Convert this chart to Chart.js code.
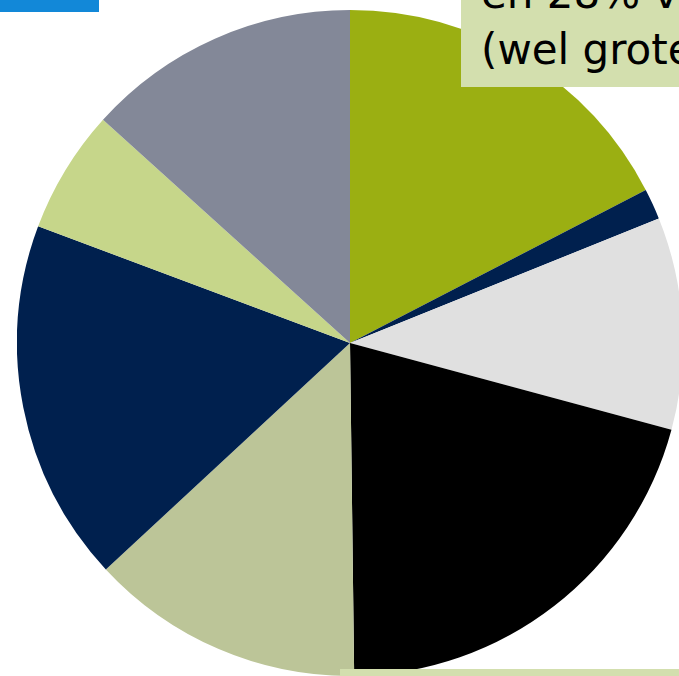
<!DOCTYPE html>
<html>
<head>
<meta charset="utf-8">
<script src="https://cdn.jsdelivr.net/npm/chart.js@4"></script>
<style>
  html, body { margin: 0; padding: 0; width: 679px; height: 676px; overflow: hidden; background: #fff; }
  #wrap { position: absolute; left: 17px; top: 10px; width: 666px; height: 666px; }
  .bar { position: absolute; left: 0; top: 0; width: 99px; height: 12px; background: #1288d8; }
  .note { position: absolute; left: 461px; top: 0; width: 240px; height: 87px; background: #d3dfae; overflow: hidden; }
  .note div { position: absolute; left: 20px; white-space: nowrap; font-family: "DejaVu Sans", sans-serif; font-size: 42px; line-height: 42px; color: #000; }
  .foot { position: absolute; left: 340px; top: 669px; width: 360px; height: 20px; background: #d3dfae; }
</style>
</head>
<body>
<div id="wrap"><canvas id="chart" width="666" height="666"></canvas></div>
<div class="bar"></div>
<div class="note">
  <div style="top:-27px">en 28% van de</div>
  <div style="top:29px">(wel groter)</div>
</div>
<div class="foot"></div>
<script>
// slice shares in percent, clockwise from the top
let labels = ["A", "B", "C", "D", "E", "F", "G", "H"];
let values = [17.4, 1.5, 10.3, 20.6, 13.3, 17.6, 6.0, 13.3];
let colors = ["#9baf12", "#00204e", "#e0e0e0", "#000000", "#bcc598", "#00204e", "#c6d68a", "#838898"];

let ctx = document.getElementById("chart").getContext("2d");
new Chart(ctx, {
    type: "pie",
    data: {
        labels: labels,
        datasets: [{
            data: values,
            backgroundColor: colors,
            borderWidth: 0
        }]
    },
    options: {
        responsive: false,
        animation: false,
        layout: { padding: 0 },
        plugins: {
            legend: { display: false },
            tooltip: { enabled: false }
        }
    }
});
</script>
</body>
</html>
